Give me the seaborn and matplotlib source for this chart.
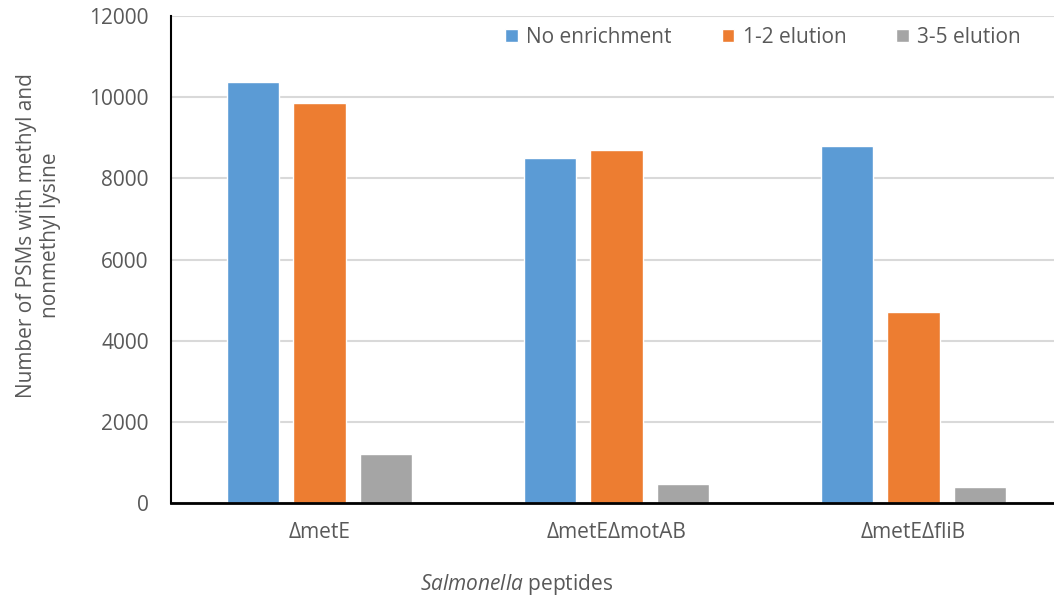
import pandas as pd
import numpy as np
import matplotlib.pyplot as plt
import seaborn as sns

# values
strains = ["ΔmetE", "ΔmetEΔmotAB", "ΔmetEΔfliB"]
no_enrichment = [10380, 8490, 8790]
elution_1_2 = [9850, 8690, 4715]
elution_3_5 = [1210, 480, 395]
series_names = ["No enrichment", "1-2 elution", "3-5 elution"]
colors = ["#5B9BD5", "#ED7D31", "#A5A5A5"]
yticks = [0, 2000, 4000, 6000, 8000, 10000, 12000]

df = pd.DataFrame({
    "strain": strains * 3,
    "series": np.repeat(series_names, len(strains)),
    "psm": no_enrichment + elution_1_2 + elution_3_5,
})

sns.set_style("white")
plt.rcParams["font.family"] = ["Open Sans", "DejaVu Sans"]
plt.rcParams["mathtext.fontset"] = "custom"
plt.rcParams["mathtext.it"] = "Open Sans:italic"
plt.rcParams["mathtext.rm"] = "Open Sans"

fig = plt.figure(figsize=(10.54, 5.99), dpi=100)
ax = fig.add_axes([171 / 1054, 96 / 599, 891 / 1054, 487 / 599])

sns.barplot(data=df, x="strain", y="psm", hue="series", order=strains,
            hue_order=series_names, palette=colors, width=0.67, gap=0.21,
            saturation=1, ax=ax)

ax.set_ylim(0, 12000)
ax.set_yticks(yticks)
ax.set_xlim(-0.5, 2.5)
ax.yaxis.grid(True, color="#D9D9D9", linewidth=1.5)
ax.set_axisbelow(True)
for s in ["top", "right"]:
    ax.spines[s].set_visible(False)
ax.spines["left"].set_color("black")
ax.spines["left"].set_linewidth(1.5)
ax.spines["bottom"].set_color("black")
ax.spines["bottom"].set_linewidth(2)

ax.tick_params(axis="both", length=0, labelsize=15, labelcolor="#595959")
ax.tick_params(axis="y", pad=16)
ax.tick_params(axis="x", pad=14)

ax.set_ylabel("Number of PSMs with methyl and\nnonmethyl lysine", fontsize=15,
              color="#595959", linespacing=1.15)
ax.yaxis.set_label_coords(-0.124, 0.55)
ax.set_xlabel(r"$\it{Salmonella}$ peptides", fontsize=15, color="#595959")
ax.xaxis.set_label_coords((517 - 171) / 891, -0.142)

ax.legend(loc="upper right", bbox_to_anchor=(0.975, 1.016), ncol=3, frameon=False,
          fontsize=15, handlelength=0.6, handleheight=0.6, handletextpad=0.4,
          columnspacing=2.4, labelcolor="#595959")

fig.savefig("out.png", dpi=100)
